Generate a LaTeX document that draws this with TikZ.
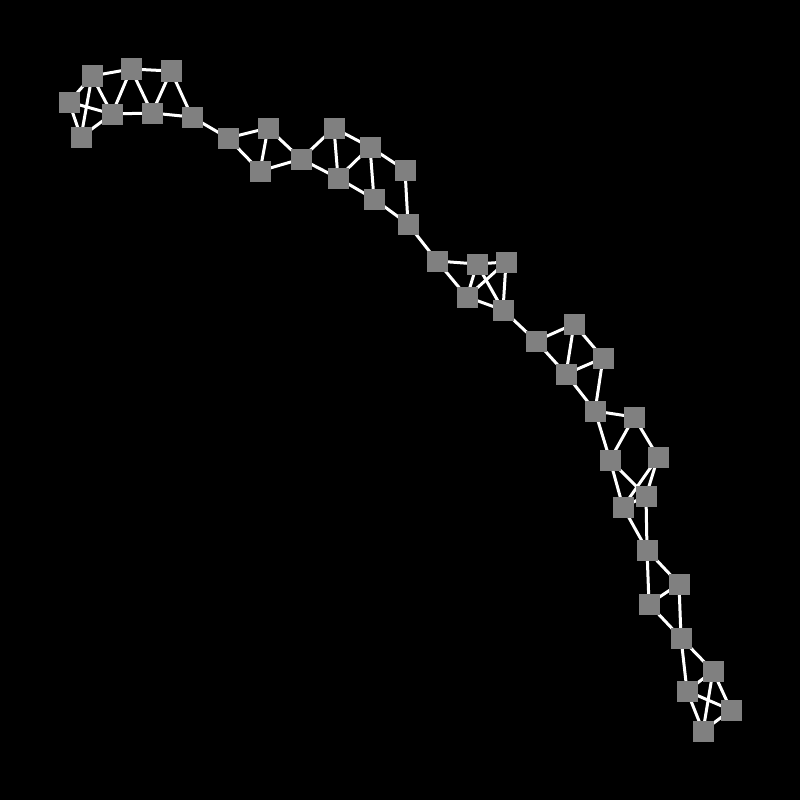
\documentclass[tikz,border=0pt]{standalone}
\begin{document}
\begin{tikzpicture}[x=1pt,y=-1pt,
  vbox/.style={draw=none,fill=gray!100!white,fill={rgb,255:red,128;green,128;blue,128},minimum size=21pt,inner sep=0pt,outer sep=0pt},
  link/.style={draw=white,line width=3pt}]
\fill[black] (0,0) rectangle (800,800);
\useasboundingbox (0,0) rectangle (800,800);
% nodes
\foreach \n/\x/\y in {A/92/76,B/131/69,C/171/71,D/69/102,E/112/114,F/152/113,G/192/117,H/81/137,
  I/228/138,J/268/128,K/260/171,L/301/159,M/334/128,N/338/178,O/370/147,P/374/199,Q/405/170,R/408/224,
  S/437/261,T/477/264,U/506/262,V/467/297,W/503/310,X/536/341,Y/574/324,Z/603/358,AA/566/374,
  AB/595/411,AC/634/417,AD/610/460,AE/658/457,AF/646/496,AG/623/507,AH/647/550,
  AI/679/584,AJ/649/604,AK/681/638,AL/713/671,AM/687/691,AN/731/710,AO/703/731}
  {\coordinate (c\n) at (\x,\y);}
% edges
\foreach \a/\b in {A/B,B/C,D/A,D/E,D/H,A/H,A/E,H/E,E/B,B/F,E/F,F/C,C/G,F/G,G/I,
  I/J,I/K,J/K,J/L,K/L,L/M,L/N,M/N,M/O,N/O,O/P,N/P,O/Q,P/R,Q/R,R/S,
  S/T,T/U,S/V,T/V,V/U,T/W,U/W,V/W,W/X,X/Y,X/AA,Y/AA,Y/Z,AA/Z,Z/AB,AA/AB,
  AB/AC,AB/AD,AC/AD,AC/AE,AD/AF,AD/AG,AE/AF,AE/AG,AF/AG,AG/AH,AF/AH,AH/AI,
  AH/AJ,AI/AJ,AI/AK,AJ/AK,AK/AL,AK/AM,AL/AM,AL/AN,AM/AN,AM/AO,AL/AO,AN/AO}
  {\draw[link] (c\a) -- (c\b);}
\foreach \n in {A,B,C,D,E,F,G,H,I,J,K,L,M,N,O,P,Q,R,S,T,U,V,W,X,Y,Z,AA,AB,AC,AD,AE,AF,AG,AH,AI,AJ,AK,AL,AM,AN,AO}
  {\node[vbox] (\n) at (c\n) {};}
\end{tikzpicture}
\end{document}
